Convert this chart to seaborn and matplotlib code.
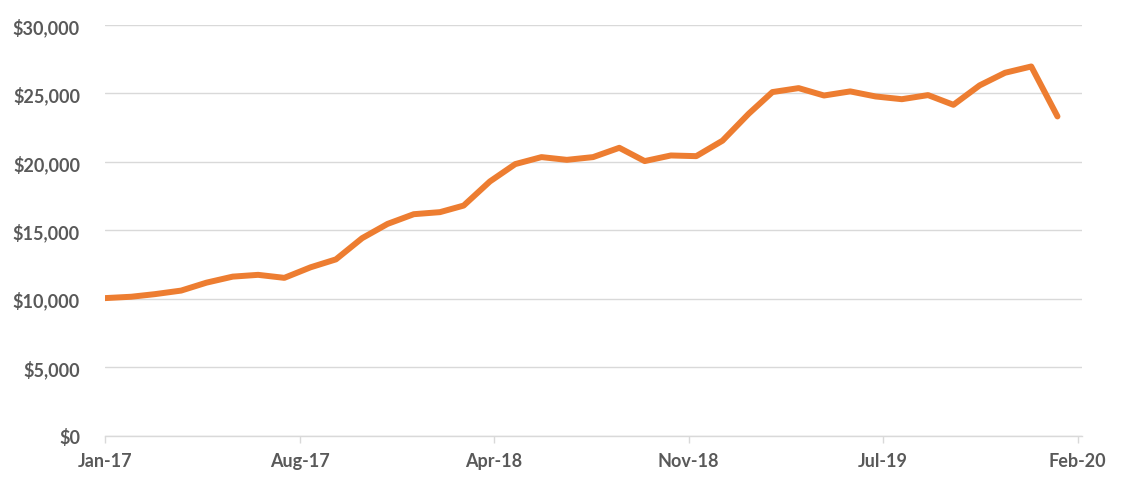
import matplotlib
matplotlib.use("Agg")
import matplotlib.pyplot as plt
import matplotlib.dates as mdates
import matplotlib.ticker as mticker
import numpy as np
import pandas as pd
import seaborn as sns

# ---- data ----
start_month = "2017-01-01"
n_months = 38
values = [10050, 10150, 10340, 10600, 11180, 11620, 11750, 11530, 12300, 12880,
          14430, 15470, 16180, 16330, 16810, 18570, 19840, 20350, 20150, 20350,
          21030, 20060, 20470, 20420, 21550, 23520, 25100, 25390, 24850, 25150,
          24780, 24580, 24880, 24170, 25590, 26510, 26970, 23320]
tick_labels = ["Jan-17", "Aug-17", "Apr-18", "Nov-18", "Jul-19", "Feb-20"]
y_ticks = [0, 5000, 10000, 15000, 20000, 25000, 30000]

dates = pd.date_range(start_month, periods=n_months, freq="MS")
df = pd.DataFrame({"date": dates, "value": values})

sns.set_theme(style="white")
plt.rcParams["font.family"] = ["Lato", "DejaVu Sans"]

fig = plt.figure(figsize=(11.21, 4.85), dpi=100)
ax = fig.add_axes([105 / 1121, 48.3 / 485, (1082 - 105) / 1121, (436.7 - 26) / 485])

sns.lineplot(data=df, x="date", y="value", ax=ax, color="#ED7D31", linewidth=4.3,
             solid_joinstyle="round", solid_capstyle="round")

x0 = pd.Timestamp("2017-01-01")
x1 = pd.Timestamp("2020-03-01")
ax.set_xlim(x0, x1)
ax.set_ylim(0, 30000)

tick_pos = [x0 + pd.Timedelta(days=230 * k) for k in range(len(tick_labels))]
ax.set_xticks(tick_pos)
ax.set_xticklabels(tick_labels)
ax.set_yticks(y_ticks)
ax.yaxis.set_major_formatter(mticker.FuncFormatter(lambda v, p: f"${v:,.0f}"))

ax.grid(axis="y", color="#D9D9D9", linewidth=1)
ax.grid(axis="x", visible=False)
ax.set_axisbelow(True)
for s in ["top", "right", "left"]:
    ax.spines[s].set_visible(False)
ax.spines["bottom"].set_color("#D9D9D9")
ax.spines["bottom"].set_linewidth(1)

ax.tick_params(axis="x", which="major", direction="out", length=5, width=1,
               color="#D9D9D9", pad=7, labelsize=13, labelcolor="#595959", bottom=True)
ax.tick_params(axis="y", length=0, pad=18, labelsize=13, labelcolor="#595959")
for lab in ax.get_xticklabels() + ax.get_yticklabels():
    lab.set_fontweight("bold")

ax.set_xlabel("")
ax.set_ylabel("")

fig.savefig("out.png", dpi=100, facecolor="white")
